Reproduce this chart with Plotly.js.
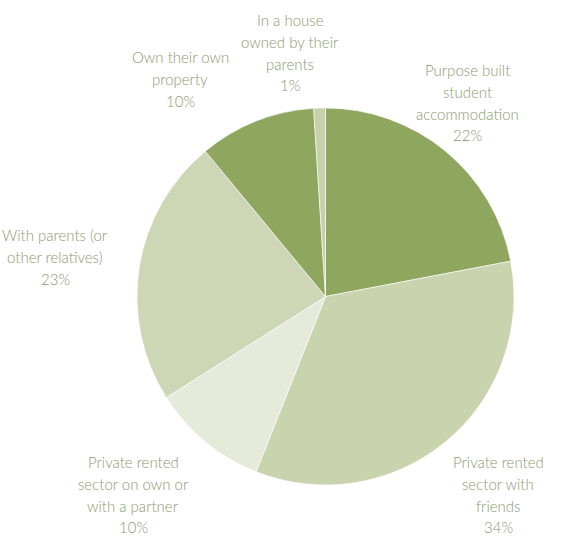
<!DOCTYPE html>
<html>
<head>
<meta charset="utf-8">
<script src="https://cdn.plot.ly/plotly-3.0.1.min.js"></script>
<style>html,body{margin:0;padding:0;background:#fff;}#chart{width:568px;height:539px;}</style>
</head>
<body>
<div id="chart"></div>
<script>
// Data
var categories = [
  "Purpose built\nstudent\naccommodation",
  "Private rented\nsector with\nfriends",
  "Private rented\nsector on own or\nwith a partner",
  "With parents (or\nother relatives)",
  "Own their own\nproperty",
  "In a house\nowned by their\nparents"
];
var values = [22, 34, 10, 23, 10, 1];
var sliceColors = ["#8ea65e", "#c9d4ae", "#e6eadb", "#cdd7b6", "#8ea65e", "#c5d1a9"];

// Label anchor positions (pixel centres of first line), layout only
var labelPos = [
  [467, 70], [498, 462], [133, 462], [55, 235], [180, 57], [290, 20]
];
var lineStep = 21.8;
var W = 568, H = 539;

var annotations = [];
categories.forEach(function (c, i) {
  var lines = c.split("\n").concat([values[i] + "%"]);
  lines.forEach(function (ln, j) {
    annotations.push({
      text: ln,
      xref: "paper", yref: "paper",
      x: labelPos[i][0] / W,
      y: 1 - (labelPos[i][1] + j * lineStep) / H,
      xanchor: "center", yanchor: "middle",
      showarrow: false,
      borderpad: 0,
      font: {family: "Lato, 'Open Sans', sans-serif", size: 15, weight: 300, color: "#8c9a70"}
    });
  });
});

var trace = {
  type: "pie",
  labels: categories.map(function (c) { return c.replace(/\n/g, " "); }),
  values: values,
  sort: false,
  direction: "clockwise",
  rotation: 0,
  textinfo: "none",
  hoverinfo: "label+percent",
  marker: {colors: sliceColors, line: {color: "rgba(255,255,255,0.6)", width: 1}},
  domain: {x: [135 / W, 516 / W], y: [1 - 485 / H, 1 - 108 / H]},
  showlegend: false
};

var layout = {
  width: W, height: H,
  margin: {l: 0, r: 0, t: 0, b: 0},
  paper_bgcolor: "#ffffff",
  plot_bgcolor: "#ffffff",
  showlegend: false,
  annotations: annotations
};

Plotly.newPlot("chart", [trace], layout, {displayModeBar: false, staticPlot: true});
</script>
</body>
</html>
